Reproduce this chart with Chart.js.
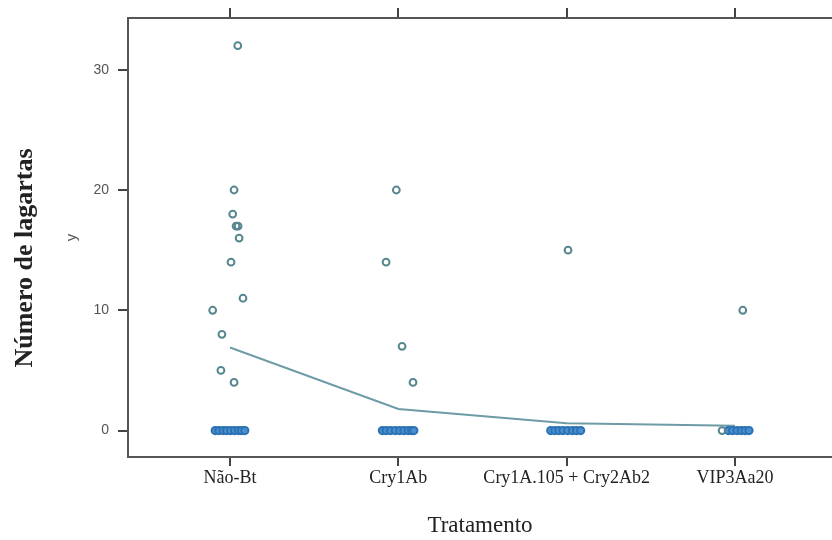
<!DOCTYPE html>
<html><head><meta charset="utf-8">
<script src="https://cdn.jsdelivr.net/npm/chart.js@4"></script>
<style>html,body{margin:0;padding:0;background:#fff;overflow:hidden}#wrap{position:relative;width:832px;height:540px;overflow:hidden}</style>
</head><body><div id="wrap"><canvas id="c" width="838" height="540"></canvas></div>
<script>
const categories = ['Não-Bt', 'Cry1Ab', 'Cry1A.105 + Cry2Ab2', 'VIP3Aa20'];
const yTicks = [0, 10, 20, 30];

// non-zero counts per treatment, with the horizontal jitter
const naoBtValues = [32, 20, 18, 17, 17, 16, 14, 11, 10, 8, 5, 4];
const naoBtJitter = [0.046, 0.024, 0.016, 0.036, 0.048, 0.054, 0.006, 0.077, -0.103, -0.048, -0.054, 0.024];
const cry1AbValues = [20, 14, 7, 4];
const cry1AbJitter = [-0.012, -0.073, 0.022, 0.087];
const cry1A105Values = [15];
const cry1A105Jitter = [0.008];
const vipValues = [10, 0];
const vipJitter = [0.046, -0.077];

// zero counts (overlapping markers), jitter per treatment
const naoBtZeroJitter = [-0.088, -0.066, -0.041, -0.02, 0.004, 0.027, 0.05, 0.068, 0.088];
const cry1AbZeroJitter = [-0.095, -0.072, -0.046, -0.018, 0.008, 0.033, 0.058, 0.078, 0.092];
const cry1A105ZeroJitter = [-0.095, -0.07, -0.047, -0.022, 0.006, 0.034, 0.058, 0.083];
const vipZeroJitter = [-0.04, -0.015, 0.012, 0.037, 0.06, 0.083];

// fitted mean per treatment
const meanLine = [6.9, 1.8, 0.6, 0.4];

function pts(cat, vals, jit) { return vals.map((v, i) => ({ x: cat + jit[i], y: v })); }
function zeros(cat, jit) { return jit.map(j => ({ x: cat + j, y: 0 })); }

const hollowPts = [].concat(
  pts(1, naoBtValues, naoBtJitter),
  pts(2, cry1AbValues, cry1AbJitter),
  pts(3, cry1A105Values, cry1A105Jitter),
  pts(4, vipValues, vipJitter)
);
const zeroPts = [].concat(
  zeros(1, naoBtZeroJitter),
  zeros(2, cry1AbZeroJitter),
  zeros(3, cry1A105ZeroJitter),
  zeros(4, vipZeroJitter)
);
const linePts = meanLine.map((v, i) => ({ x: i + 1, y: v }));

const catTicks = s => { s.ticks = categories.map((c, i) => ({ value: i + 1 })); };

const outerTitle = {
  id: 'outerTitle',
  afterDraw(chart) {
    const ctx = chart.ctx;
    ctx.save();
    ctx.translate(25, 258);
    ctx.rotate(-Math.PI / 2);
    ctx.font = 'bold 26px "Liberation Serif"';
    ctx.fillStyle = '#222';
    ctx.textAlign = 'center';
    ctx.textBaseline = 'middle';
    ctx.fillText('Número de lagartas', 0, 0);
    ctx.restore();
  }
};

new Chart(document.getElementById('c'), {
  type: 'scatter',
  data: {
    datasets: [
      { type: 'line', data: linePts, borderColor: '#6f9ba6', borderWidth: 2, pointRadius: 0, fill: false, tension: 0, order: 3 },
      { data: zeroPts, pointRadius: 3.6, borderWidth: 2, borderColor: '#2b72b5', backgroundColor: '#4a90cf', order: 2 },
      { data: hollowPts, pointRadius: 3.4, borderWidth: 2, borderColor: '#56878f', backgroundColor: 'rgba(255,255,255,0)', order: 1 }
    ]
  },
  options: {
    responsive: false,
    animation: false,
    layout: { padding: 0 },
    plugins: { legend: { display: false }, tooltip: { enabled: false } },
    scales: {
      x: {
        type: 'linear', position: 'bottom', min: 0.394, max: 4.576,
        afterBuildTicks: catTicks,
        afterFit: s => { s.height = 83; s.paddingLeft = 0; s.paddingRight = 0; },
        grid: { drawOnChartArea: false, drawTicks: true, tickLength: 9, color: '#444', lineWidth: 2 },
        border: { color: '#555', width: 2 },
        ticks: { autoSkip: false, maxRotation: 0, padding: 1, color: '#222', font: { family: 'Liberation Serif', size: 18 }, callback: v => categories[v - 1] },
        title: { display: true, text: 'Tratamento', color: '#222', font: { family: 'Liberation Serif', size: 23 }, padding: { top: 0, bottom: 0 } }
      },
      x2: {
        type: 'linear', position: 'top', min: 0.394, max: 4.576,
        afterBuildTicks: catTicks,
        afterFit: s => { s.height = 18; s.paddingLeft = 0; s.paddingRight = 0; },
        grid: { drawOnChartArea: false, drawTicks: true, tickLength: 10, color: '#444', lineWidth: 2 },
        border: { color: '#555', width: 2 },
        ticks: { display: false }
      },
      y: {
        type: 'linear', position: 'left', min: -2.2, max: 34.3,
        afterBuildTicks: s => { s.ticks = yTicks.map(v => ({ value: v })); },
        afterFit: s => { s.width = 128; },
        grid: { drawOnChartArea: false, drawTicks: true, tickLength: 10, color: '#444', lineWidth: 2 },
        border: { color: '#555', width: 2 },
        ticks: { padding: 9, color: '#555', font: { family: 'Liberation Sans', size: 14 } },
        title: { display: true, text: 'y', color: '#555', font: { family: 'Liberation Sans', size: 15 }, padding: { top: 63, bottom: 0 } }
      }
    }
  },
  plugins: [outerTitle]
});
</script>
</body></html>
